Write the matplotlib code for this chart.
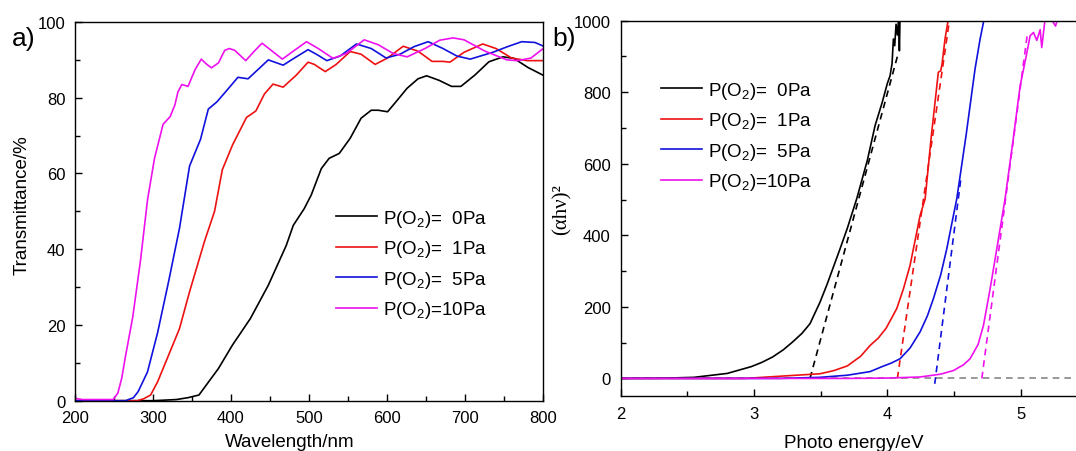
import matplotlib
matplotlib.use("Agg")
import matplotlib.pyplot as plt
from matplotlib.ticker import MultipleLocator

plt.rcParams['font.family'] = ['Liberation Sans', 'DejaVu Sans']
plt.rcParams['mathtext.fontset'] = 'custom'
plt.rcParams['mathtext.rm'] = 'Liberation Sans'
plt.rcParams['mathtext.it'] = 'Liberation Sans:italic'

#-------------------------#
# a) Transmittance spectra #
#-------------------------#

labels = ["P(O$_2$)=  0Pa", "P(O$_2$)=  1Pa", "P(O$_2$)=  5Pa", "P(O$_2$)=10Pa"]
colors = ["#000000", "#ee1111", "#1111dd", "#ee11ee"]

wl_0 = [200, 300, 330, 345, 359, 384, 402, 425, 448, 471, 480, 494, 503, 516, 526, 539,
        553, 567, 580, 589, 601, 612, 626, 640, 651, 667, 683, 695, 713, 731, 749, 763, 781, 800]
T_0 = [0, 0, 0.3, 0.8, 1.5, 8.5, 14.7, 21.7, 30.5, 41, 46.3, 50.7, 54.3, 61.3, 64, 65.3,
       69.3, 74.6, 76.7, 76.7, 76.3, 79, 82.5, 85, 85.8, 84.6, 83, 83, 86, 89.5, 90.8, 90.4, 88, 86]

wl_1 = [200, 280, 288, 297, 306, 320, 334, 347, 366, 379, 389, 402, 420, 432, 443, 454, 467,
        484, 499, 507, 521, 535, 553, 567, 585, 601, 621, 640, 658, 672, 681, 699, 723, 740,
        760, 780, 800]
T_1 = [0, 0, 0.5, 1.5, 5, 12, 19, 28.8, 42, 50, 61, 67.5, 74.8, 76.5, 81, 83.6, 82.8,
       86, 89.4, 88.8, 86.9, 88.8, 92.2, 91.5, 88.8, 90.5, 93.6, 92.3, 89.6, 89.6, 89.4, 92,
       94.2, 93, 90.5, 89.8, 89.8]

wl_5 = [200, 265, 275, 281, 293, 306, 320, 334, 347, 361, 371, 382, 395, 409, 422, 435, 448,
        467, 480, 499, 512, 523, 540, 561, 580, 599, 617, 635, 653, 672, 690, 707, 736, 755,
        773, 790, 800]
T_5 = [0, 0, 0.8, 2.4, 7.6, 18, 31.4, 45.5, 62, 69, 77, 78.9, 82, 85.4, 85, 87.5, 90,
       88.6, 90.3, 92.7, 91.2, 89.8, 91, 94.2, 93, 90.5, 91.5, 93.5, 94.8, 93, 91, 90.2, 92,
       93.5, 94.8, 94.6, 93.7]

wl_10 = [200, 203, 210, 249, 255, 260, 265, 274, 284, 293, 302, 313, 322, 328, 332, 337, 345,
         354, 362, 368, 375, 384, 392, 398, 405, 419, 430, 440, 453, 466, 480, 497, 512, 531,
         548, 571, 589, 608, 626, 649, 668, 685, 699, 726, 754, 768, 785, 800]
T_10 = [0.8, 0.5, 0.3, 0.3, 2, 6, 12, 22, 37, 53, 64, 73, 75, 78, 81.5, 83.5, 83,
        87.4, 90.2, 89, 87.9, 89.2, 92.5, 93, 92.5, 89.8, 92.3, 94.4, 92.3, 90.2, 92.3, 94.8, 93, 90.4,
        91.7, 95.3, 94, 91.7, 90.8, 93, 95.2, 95.8, 95.3, 92.3, 90, 89.8, 90.5, 92.9]

#------------------#
# b) Tauc plot     #
#------------------#

E_0 = [2.0, 2.3, 2.55, 2.8, 2.98, 3.06, 3.14, 3.22, 3.29, 3.36, 3.42, 3.45, 3.495, 3.55,
       3.645, 3.70, 3.77, 3.85, 3.908, 3.96, 4.0, 4.02, 4.035, 4.045, 4.055, 4.065, 4.075,
       4.085, 4.09, 4.095]
A_0 = [0, 0.5, 3, 14, 33, 45, 60, 80, 102, 126, 153, 177, 213, 265,
       362, 420, 502, 610, 707, 770, 825, 846, 880, 949, 930, 990, 960,
       1010, 916, 1010]

E_1 = [2.0, 2.93, 3.32, 3.495, 3.60, 3.70, 3.80, 3.87, 3.93, 3.99, 4.07, 4.12, 4.17, 4.245,
       4.283, 4.33, 4.382, 4.40, 4.41, 4.432, 4.457, 4.47]
A_1 = [0, 0, 9, 13, 22, 35, 62, 92, 112, 140, 195, 250, 316, 455,
       502, 680, 856, 860, 880, 949, 1005, 1020]

E_5 = [2.0, 3.19, 3.495, 3.70, 3.87, 3.96, 4.03, 4.095, 4.17, 4.245, 4.30, 4.345, 4.40, 4.445,
       4.52, 4.59, 4.657, 4.695, 4.72, 4.73]
A_5 = [0, 0, 3, 9, 19, 33, 43, 55, 85, 130, 175, 223, 290, 362,
       502, 680, 865, 949, 995, 1010]

E_10 = [2.0, 3.7, 4.0, 4.245, 4.40, 4.495, 4.57, 4.62, 4.68, 4.72, 4.77, 4.82, 4.882, 4.94,
        4.995, 5.04, 5.07, 5.095, 5.12, 5.145, 5.157, 5.182, 5.22, 5.26, 5.28, 5.35]
A_10 = [0, 0, 1, 4, 12, 22, 38, 55, 95, 148, 250, 362, 502, 660,
        818, 900, 958, 967, 945, 975, 925, 1005, 1010, 985, 1010, 1020]

# linear fits (dashed), end points
fit_E = [[3.42, 4.075], [4.075, 4.465], [4.355, 4.553], [4.708, 5.05]]
fit_A = [[0, 900], [0, 1000], [-15, 565], [0, 965]]
base_E = [2.0, 5.5]
base_A = [0, 0]


fig = plt.figure(figsize=(10.76, 4.52), dpi=100)
ax1 = fig.add_axes([0.0697, 0.1113, 0.4347, 0.8378])
ax2 = fig.add_axes([0.5767, 0.121, 0.434, 0.831])

lw = 1.2
for wl, T, c, lab in zip([wl_0, wl_1, wl_5, wl_10], [T_0, T_1, T_5, T_10], colors, labels):
    ax1.plot(wl, T, color=c, lw=lw, label=lab)

ax1.set_xlim(200, 800)
ax1.set_ylim(0, 100)
ax1.xaxis.set_major_locator(MultipleLocator(100))
ax1.xaxis.set_minor_locator(MultipleLocator(50))
ax1.yaxis.set_major_locator(MultipleLocator(20))
ax1.yaxis.set_minor_locator(MultipleLocator(10))
ax1.set_xlabel("Wavelength/nm", fontsize=13.5)
ax1.set_ylabel("Transmittance/%", fontsize=13.5)
ax1.xaxis.set_label_coords(0.46, -0.085)
ax1.yaxis.set_label_coords(-0.095, 0.52)
ax1.legend(loc='upper left', bbox_to_anchor=(0.558, 0.509), frameon=False, fontsize=13.5,
           handlelength=2.2, handletextpad=0.3, labelspacing=0.5, borderpad=0, borderaxespad=0)

ax2.plot(base_E, base_A, color="#888888", lw=lw, ls=(0, (4, 3)))
for i in range(4):
    ax2.plot(fit_E[i], fit_A[i], color=colors[i], lw=lw, ls=(0, (4, 3)))
for E, A, c, lab in zip([E_0, E_1, E_5, E_10], [A_0, A_1, A_5, A_10], colors, labels):
    ax2.plot(E, A, color=c, lw=lw, label=lab)

ax2.set_xlim(2, 5.5)
ax2.set_ylim(-50, 1000)
ax2.xaxis.set_major_locator(MultipleLocator(1))
ax2.xaxis.set_minor_locator(MultipleLocator(0.5))
ax2.yaxis.set_major_locator(MultipleLocator(200))
ax2.yaxis.set_minor_locator(MultipleLocator(100))
ax2.set_xlabel("Photo energy/eV", fontsize=13.5)
ax2.set_ylabel("(αhν)²", fontsize=15, family=['Liberation Serif', 'DejaVu Serif'])
ax2.xaxis.set_label_coords(0.5, -0.1)
ax2.yaxis.set_label_coords(-0.105, 0.5)
ax2.legend(loc='upper left', bbox_to_anchor=(0.086, 0.842), frameon=False, fontsize=13.5,
           handlelength=2.2, handletextpad=0.3, labelspacing=0.5, borderpad=0, borderaxespad=0)

for ax in (ax1, ax2):
    ax.tick_params(which='both', direction='in', top=False, right=False, labelsize=12, width=1.0)
    ax.tick_params(which='major', length=5, pad=7)
    ax.tick_params(which='minor', length=3.5)
    for s in ax.spines.values():
        s.set_linewidth(1.0)

fig.text(0.011, 0.898, "a)", fontsize=19)
fig.text(0.513, 0.898, "b)", fontsize=19)

fig.savefig("out.png", dpi=100)
